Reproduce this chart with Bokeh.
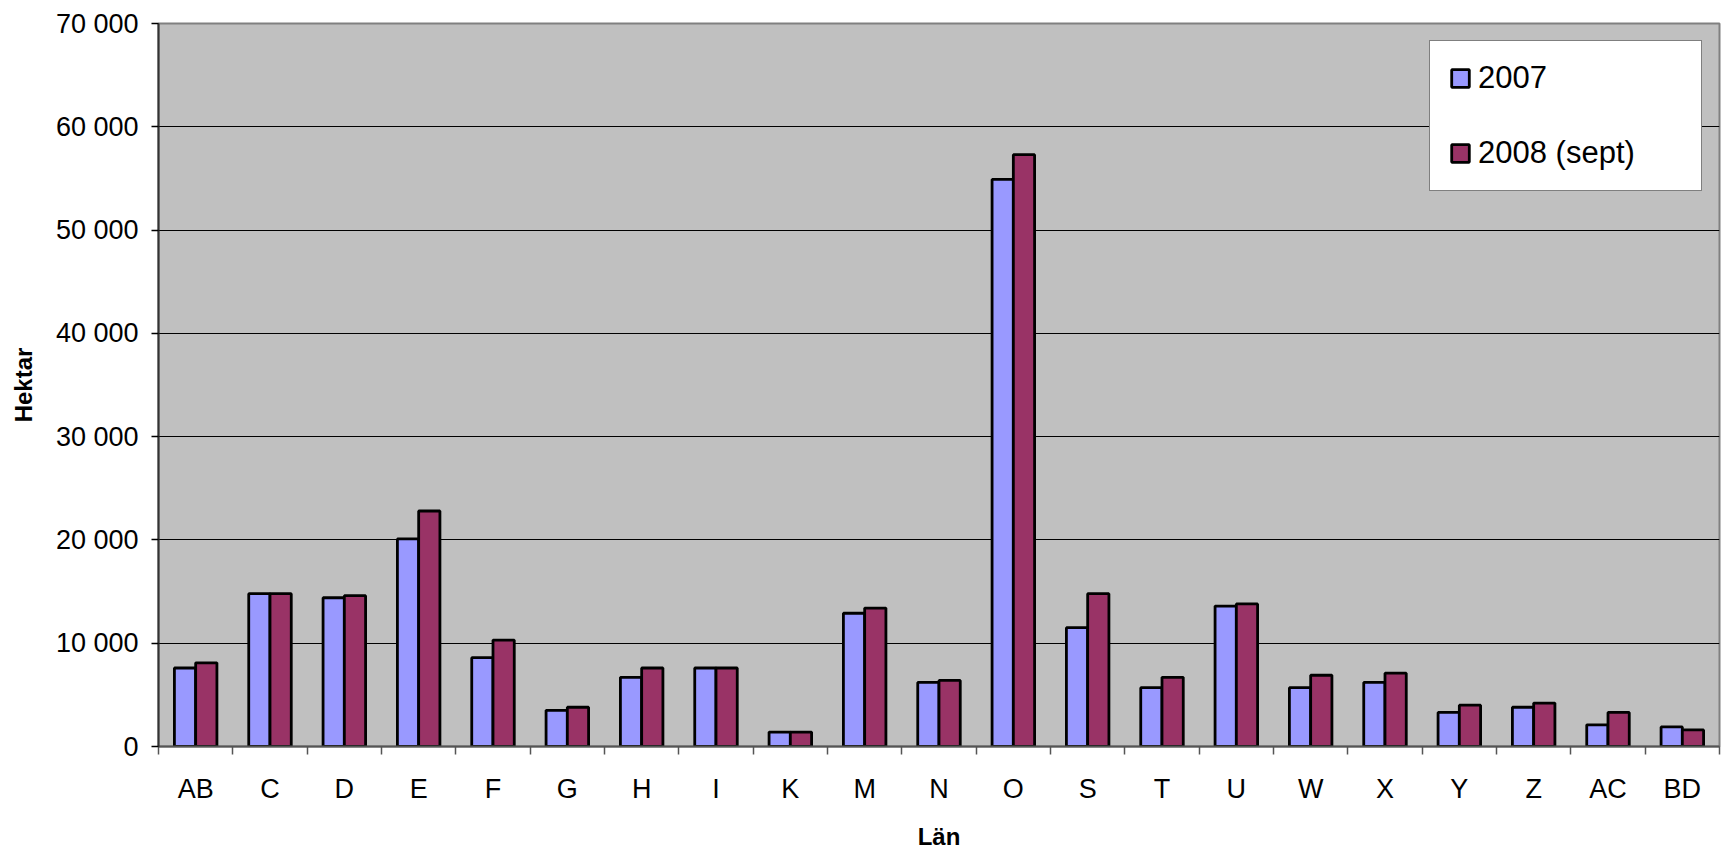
from bokeh.plotting import figure
from bokeh.models import (Range1d, FixedTicker, LinearAxis, ColumnDataSource)
from bokeh.transform import dodge
from bokeh.embed import file_html
from bokeh.resources import INLINE

categories = ["AB", "C", "D", "E", "F", "G", "H", "I", "K", "M", "N", "O",
              "S", "T", "U", "W", "X", "Y", "Z", "AC", "BD"]
values_2007 = [7600, 14800, 14400, 20100, 8600, 3500, 6700, 7600, 1400, 12900,
               6200, 54900, 11500, 5700, 13600, 5700, 6200, 3300, 3800, 2100, 1900]
values_2008 = [8100, 14800, 14600, 22800, 10300, 3800, 7600, 7600, 1400, 13400,
               6400, 57300, 14800, 6700, 13800, 6900, 7100, 4000, 4200, 3300, 1600]
y_ticks = [0, 10000, 20000, 30000, 40000, 50000, 60000, 70000]
series_names = ["2007", "2008 (sept)"]

FONT = "Liberation Sans"

src = ColumnDataSource(dict(x=list(range(len(categories))),
                            v07=values_2007, v08=values_2008))

p = figure(width=1723, height=852, output_backend="svg", toolbar_location=None,
           x_range=Range1d(-0.5, len(categories) - 0.5),
           y_range=Range1d(0, 70000),
           min_border_left=158, min_border_right=4, min_border_top=23,
           min_border_bottom=104)

p.background_fill_color = "#C0C0C0"
p.border_fill_color = "white"
p.outline_line_color = "#808080"
p.outline_line_width = 2

bw = 0.286
p.vbar(x=dodge("x", -bw / 2, range=p.x_range), top="v07", width=bw, source=src,
       fill_color="#9999FF", line_color="black", line_width=2.8,
       legend_label=series_names[0])
p.vbar(x=dodge("x", bw / 2, range=p.x_range), top="v08", width=bw, source=src,
       fill_color="#993366", line_color="black", line_width=2.8,
       legend_label=series_names[1])

# y axis
yax = p.yaxis[0]
yax.ticker = FixedTicker(ticks=y_ticks)
yax.major_label_overrides = {t: f"{t:,}".replace(",", " ") for t in y_ticks}
yax.major_label_text_font = FONT
yax.major_label_text_font_size = "27px"
yax.major_label_text_color = "black"
yax.major_tick_out = 7
yax.major_tick_in = 0
yax.major_tick_line_color = "black"
yax.major_tick_line_width = 1.5
yax.minor_tick_line_color = None
yax.major_label_standoff = 13
yax.axis_line_color = "#333333"
yax.axis_line_width = 2
yax.axis_label = "Hektar"
yax.axis_label_text_font = FONT
yax.axis_label_text_font_style = "bold"
yax.axis_label_text_font_size = "24px"
yax.axis_label_text_color = "black"
yax.axis_label_standoff = 16

p.ygrid.ticker = FixedTicker(ticks=y_ticks)
p.ygrid.grid_line_color = "black"
p.ygrid.grid_line_width = 1
p.xgrid.grid_line_color = None

# x axis: tick marks between categories
xax = p.xaxis[0]
xax.ticker = FixedTicker(ticks=[k - 0.5 for k in range(len(categories) + 1)])
xax.major_label_text_font_size = "0px"
xax.major_label_text_color = None
xax.major_label_standoff = 0
xax.major_tick_out = 8
xax.major_tick_in = 0
xax.major_tick_line_color = "#555555"
xax.major_tick_line_width = 1.5
xax.minor_tick_line_color = None
xax.axis_line_color = "#555555"
xax.axis_line_width = 2

# x axis: category labels
lab_ax = LinearAxis(ticker=FixedTicker(ticks=list(range(len(categories)))),
                    major_label_overrides={i: c for i, c in enumerate(categories)})
lab_ax.axis_line_color = None
lab_ax.major_tick_line_color = None
lab_ax.minor_tick_line_color = None
lab_ax.major_label_text_font = FONT
lab_ax.major_label_text_font_size = "27px"
lab_ax.major_label_text_color = "black"
lab_ax.major_label_standoff = 13
lab_ax.axis_label = "Län"
lab_ax.axis_label_text_font = FONT
lab_ax.axis_label_text_font_style = "bold"
lab_ax.axis_label_text_font_size = "24px"
lab_ax.axis_label_text_color = "black"
lab_ax.axis_label_standoff = 16
p.add_layout(lab_ax, "below")

# legend
lg = p.legend[0]
lg.location = "top_right"
lg.margin = 17
lg.padding = 19
lg.spacing = 39
lg.glyph_width = 22
lg.glyph_height = 22
lg.label_height = 32
lg.label_width = 204
lg.label_standoff = 7
lg.label_text_font = FONT
lg.label_text_font_size = "31px"
lg.label_text_color = "black"
lg.border_line_color = "black"
lg.border_line_width = 1
lg.background_fill_color = "white"
lg.background_fill_alpha = 1.0

open("out.html", "w").write(file_html(p, INLINE))
